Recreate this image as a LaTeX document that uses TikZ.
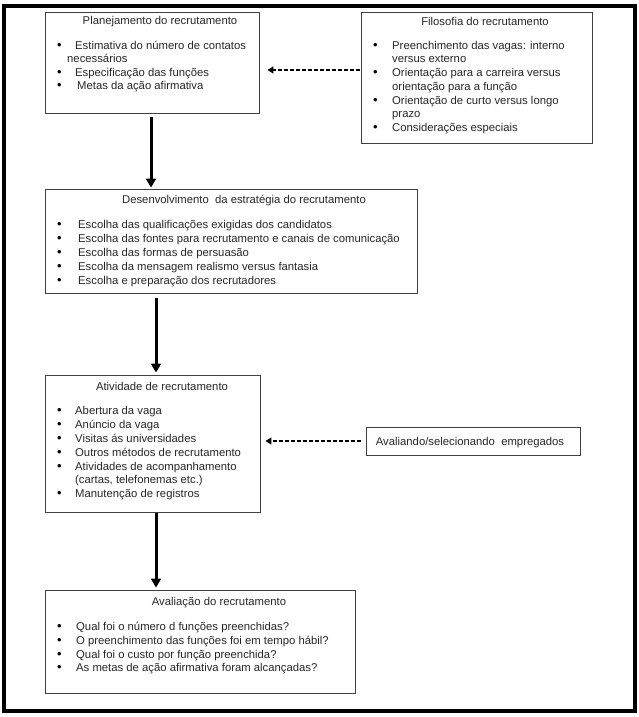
\documentclass[tikz,border=0pt]{standalone}
\usepackage{fontspec}
\setmainfont{Liberation Sans}
\usetikzlibrary{arrows.meta}
\newcommand\itm[5]{%
  \node[bulletstyle] (#1b) at (#2,#4+4) {\textbullet};
  \node[txt] (#1) at (#3,#4+4) {#5};}
\newcommand\cont[4]{\node[txt] (#1) at (#2,#3+4) {#4};}
\newcommand\ttl[4]{\node[ttlstyle] (#1) at (#2,#3+4) {#4};}
\begin{document}
\begin{tikzpicture}[x=1pt,y=-1pt,
  box/.style={draw=black!75, line width=0.9pt, rectangle, inner sep=0pt},
  txt/.style={inner sep=0pt, anchor=base west, font=\fontsize{11.3}{13}\selectfont, text=black!85},
  bulletstyle/.style={inner sep=0pt, anchor=base west, font=\fontsize{13}{13}\selectfont, text=black},
  ttlstyle/.style={inner sep=0pt, anchor=base, font=\fontsize{11.3}{13}\selectfont, text=black!85},
  solidarrow/.style={line width=3pt, -{Triangle[length=9pt,width=10pt]}},
  dasharrow/.style={line width=2pt, dash pattern=on 4pt off 2pt, -{Triangle[length=6pt,width=7pt]}}
]
\useasboundingbox (0,0) rectangle (639,717);
\draw[line width=4pt] (4,6) rectangle (635,711);

% boxes
\node[box, minimum width=214pt, minimum height=101pt] (b1) at (152,62.5) {};
\node[box, minimum width=231pt, minimum height=131pt] (b2) at (476.5,77.5) {};
\node[box, minimum width=372pt, minimum height=104pt] (b3) at (231,241) {};
\node[box, minimum width=215pt, minimum height=137pt] (b4) at (152.5,443.5) {};
\node[box, minimum width=214pt, minimum height=28pt] (b5) at (473,441) {};
\node[box, minimum width=310pt, minimum height=103pt] (b6) at (200,641.5) {};

% box 1
\ttl{t1}{160}{21}{Planejamento do recrutamento}
\itm{p1}{57}{75}{46}{Estimativa do número de contatos}
\cont{p1c}{67}{59}{necessários}
\itm{p2}{57}{75}{72}{Especificação das funções}
\itm{p3}{57}{77}{85}{Metas da ação afirmativa}

% box 2
\ttl{t2}{485}{22}{Filosofia do recrutamento}
\itm{f1}{373}{392}{46}{Preenchimento das vagas: interno}
\cont{f1c}{392}{59}{versus externo}
\itm{f2}{373}{392}{73}{Orientação para a carreira versus}
\cont{f2c}{392}{86}{orientação para a função}
\itm{f3}{373}{392}{100}{Orientação de curto versus longo}
\cont{f3c}{392}{113}{prazo}
\itm{f4}{373}{392}{127}{Considerações especiais}

% box 3
\ttl{t3}{244}{199}{Desenvolvimento\ \ da estratégia do recrutamento}
\itm{d1}{57}{78}{224}{Escolha das qualificações exigidas dos candidatos}
\itm{d2}{57}{78}{238}{Escolha das fontes para recrutamento e canais de comunicação}
\itm{d3}{57}{78}{252}{Escolha das formas de persuasão}
\itm{d4}{57}{78}{266}{Escolha da mensagem realismo versus fantasia}
\itm{d5}{57}{78}{280}{Escolha e preparação dos recrutadores}

% box 4
\ttl{t4}{162}{386}{Atividade de recrutamento}
\itm{a1}{57}{75}{410}{Abertura da vaga}
\itm{a2}{57}{75}{424}{Anúncio da vaga}
\itm{a3}{57}{75}{438}{Visitas ás universidades}
\itm{a4}{57}{75}{452}{Outros métodos de recrutamento}
\itm{a5}{57}{75}{466}{Atividades de acompanhamento}
\cont{a5c}{75}{479}{(cartas, telefonemas etc.)}
\itm{a6}{57}{75}{493}{Manutenção de registros}

% box 5
\ttl{t5}{470}{441}{Avaliando/selecionando\ \ empregados}

% box 6
\ttl{t6}{219}{601}{Avaliação do recrutamento}
\itm{v1}{57}{76}{626}{Qual foi o número d funções preenchidas?}
\itm{v2}{57}{76}{640}{O preenchimento das funções foi em tempo hábil?}
\itm{v3}{57}{76}{654}{Qual foi o custo por função preenchida?}
\itm{v4}{57}{76}{667}{As metas de ação afirmativa foram alcançadas?}

% connectors
\coordinate (ax1) at (151,0);
\coordinate (ax2) at (156,0);
\coordinate (ay1) at (0,70);
\draw[solidarrow, shorten <=4pt, shorten >=1pt] (b1.south -| ax1) -- (b3.north -| ax1);
\draw[solidarrow, shorten <=5pt, shorten >=2pt] (b3.south -| ax2) -- (b4.north -| ax2);
\draw[solidarrow, shorten <=1pt, shorten >=2pt] (b4.south -| ax2) -- (b6.north -| ax2);
\draw[dasharrow, shorten <=1pt, shorten >=8pt] (b2.west |- ay1) -- (b1.east |- ay1);
\draw[dasharrow, shorten <=5pt, shorten >=5pt] (b5.west) -- (b4.east |- b5.west);
\end{tikzpicture}
\end{document}
